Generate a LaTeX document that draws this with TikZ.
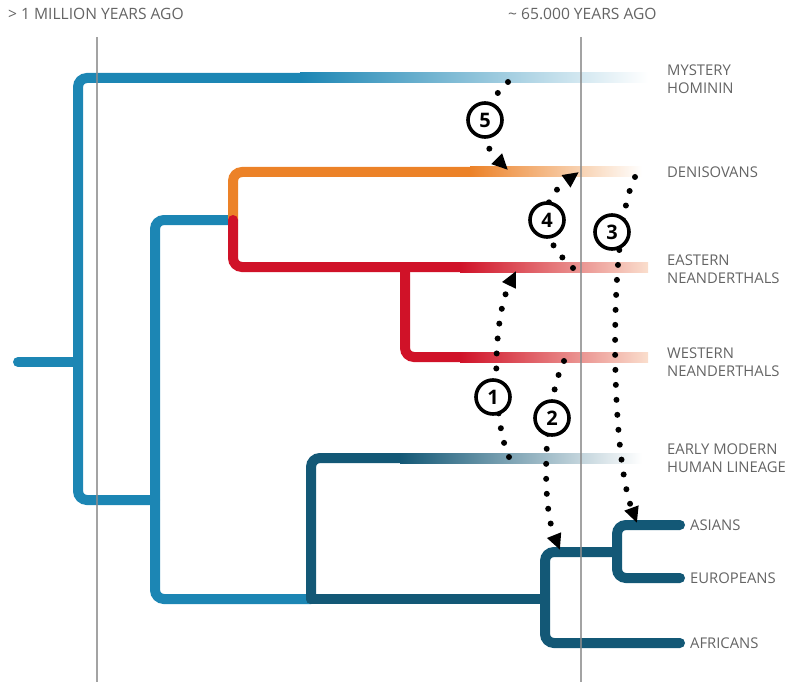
\documentclass[tikz,border=0pt]{standalone}
\usepackage{fontspec}
\setmainfont{Open Sans}
\usetikzlibrary{arrows.meta}
\definecolor{hblue}{RGB}{28,134,180}
\definecolor{hdark}{RGB}{19,88,118}
\definecolor{horange}{RGB}{236,130,40}
\definecolor{hred}{RGB}{208,18,40}
\definecolor{hpale}{RGB}{250,222,205}
\definecolor{htext}{RGB}{100,100,100}

\begin{document}
\begin{tikzpicture}[x=1pt,y=-1pt,
  branch/.style={line width=10pt,rounded corners=9pt,line cap=round},
  taxon/.style={anchor=west,text=htext,align=left,inner sep=0pt,font=\fontsize{14.8}{18}\selectfont},
  era/.style={taxon,font=\fontsize{15.6}{18}\selectfont},
  migr/.style={line width=6pt,line cap=round,dash pattern=on 0pt off 15pt,-{Triangle[length=16pt,width=14pt]}},
  numc/.style={circle,draw,solid,line width=3.6pt,fill=white,minimum size=34pt,inner sep=0pt,font=\fontsize{20}{20}\selectfont\bfseries},
  gline/.style={line width=1.2pt,black!45,opacity=0.8}]
\useasboundingbox (0,0) rectangle (790,682);
\coordinate (root) at (18,362);
\coordinate (k0) at (78,362);
\coordinate (k1) at (155,500);
\coordinate (k2) at (233,220);
\coordinate (k3) at (405,267);
\coordinate (k4) at (311,599);
\coordinate (k5) at (545,599);
\coordinate (k6) at (617,552);
\draw[branch,hblue] (root) -- (k0);
\draw[branch,hblue] (300,78) -| (k1 -| k0) -- (k1);
\draw[branch,hblue] (k2) -| (k1 |- k4) -- (k4);
\draw[branch,horange] (k2) |- (470,172);
\draw[branch,hred] (k2) |- (460,267);
\draw[branch,hred] (k3) |- (460,357);
\draw[branch,hdark] (k4) |- (400,458);
\draw[branch,hdark] (k4) -- (k5);
\draw[branch,hdark] (k6) -| (545,643) -- (680,643);
\draw[branch,hdark] (680,525) -| (617,578) -- (680,578);
\shade[left color=hblue,right color=white] (300,73) rectangle (648,83);
\shade[left color=horange,right color=white] (470,167) rectangle (642,177);
\shade[left color=hred,right color=hpale] (460,262) rectangle (648,272);
\shade[left color=hred,right color=hpale] (460,352) rectangle (648,362);
\shade[left color=hdark,right color=white] (400,453) rectangle (642,463);
\draw[gline] (97,37) -- (97,682);
\draw[gline] (581,37) -- (581,682);
\node[era] (old) at (8,14) {> 1 MILLION YEARS AGO};
\node[era] (new) at (508,14) {\textasciitilde{} 65.000 YEARS AGO};
\node[taxon] (myst) at (667,79) {MYSTERY\\HOMININ};
\node[taxon] (deni) at (667,172) {DENISOVANS};
\node[taxon] (eneo) at (667,269) {EASTERN\\NEANDERTHALS};
\node[taxon] (wneo) at (667,362) {WESTERN\\NEANDERTHALS};
\node[taxon] (emh) at (667,458) {EARLY MODERN\\HUMAN LINEAGE};
\node[taxon] (asia) at (690,525) {ASIANS};
\node[taxon] (euro) at (690,578) {EUROPEANS};
\node[taxon] (afri) at (690,643) {AFRICANS};
\coordinate (m1a) at (509,457);
\coordinate (m1b) at (516,271);
\coordinate (m2a) at (564,361);
\coordinate (m2b) at (560,550);
\coordinate (m3a) at (635,177);
\coordinate (m3b) at (637,523);
\coordinate (m4a) at (573,268);
\coordinate (m4b) at (579,172);
\coordinate (m5a) at (508,82);
\coordinate (m5b) at (508,170);
\draw[migr] (m1a) .. controls (492,420) and (492,320) .. (m1b);
\draw[migr] (m2a) .. controls (545,400) and (540,500) .. (m2b);
\draw[migr] (m3a) .. controls (608,230) and (610,450) .. (m3b);
\draw[migr] (m4a) .. controls (535,235) and (540,200) .. (m4b);
\draw[migr] (m5a) .. controls (478,110) and (478,140) .. (m5b);
\node[numc] (c1) at (493,397) {1};
\node[numc] (c2) at (552,418) {2};
\node[numc] (c3) at (612,232) {3};
\node[numc] (c4) at (547,220) {4};
\node[numc] (c5) at (485,120) {5};
\end{tikzpicture}
\end{document}
